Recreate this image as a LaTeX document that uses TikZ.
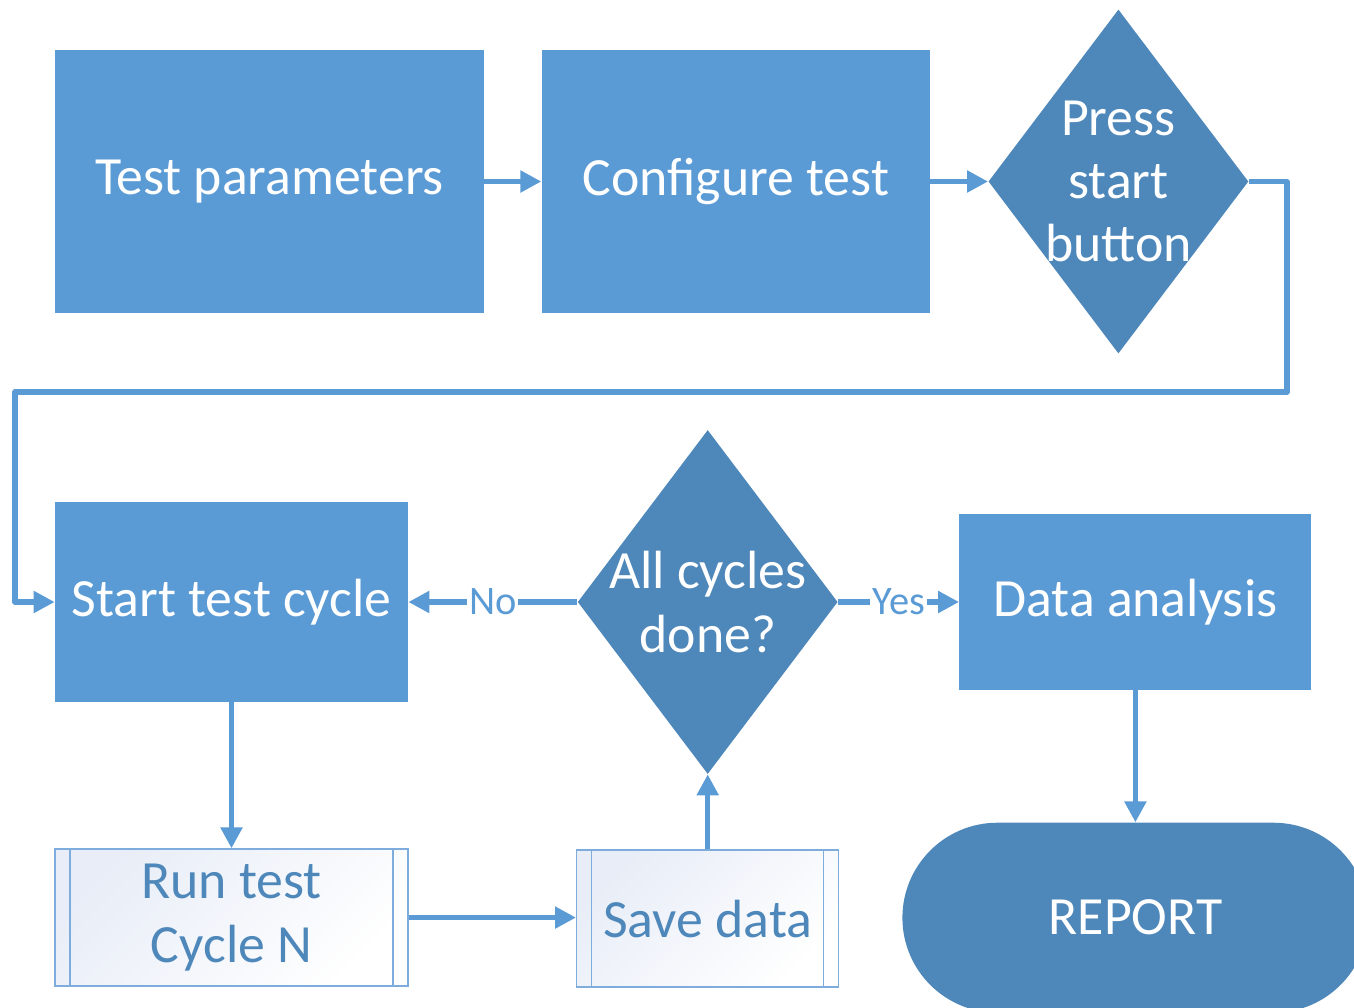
\documentclass[tikz,border=0pt]{standalone}
\usepackage{fontspec}
\setmainfont{Carlito}
\usetikzlibrary{arrows.meta, shapes.geometric, positioning}

\definecolor{boxblue}{RGB}{91,155,213}
\definecolor{deepblue}{RGB}{78,135,186}
\definecolor{paleblue}{RGB}{232,237,247}
\definecolor{rimblue}{RGB}{126,172,220}

\begin{document}
\begin{tikzpicture}[
    big/.style={font=\fontsize{30.6}{36}\selectfont},
    block/.style={rectangle, fill=boxblue, text=white, big, align=center, inner sep=2pt},
    decision/.style={diamond, fill=deepblue, inner sep=0pt,
      minimum width=5.2cm, minimum height=6.88cm},
    dectext/.style={text=white, big, align=center},
    subproc/.style={rectangle, draw=rimblue, line width=0.8pt,
      top color=paleblue, bottom color=white, shading angle=45,
      text=deepblue, big, align=center,
      path picture={\draw[rimblue, line width=0.8pt]
        ([xshift=0.3cm]path picture bounding box.north west) -- ([xshift=0.3cm]path picture bounding box.south west)
        ([xshift=-0.3cm]path picture bounding box.north east) -- ([xshift=-0.3cm]path picture bounding box.south east);}},
    terminal/.style={rectangle, rounded corners=1.9cm, fill=deepblue, text=white, big},
    flow/.style={draw=boxblue, line width=3pt, line join=round,
      -{Triangle[length=0.42cm, width=0.42cm]}},
    answer/.style={fill=white, text=boxblue, inner sep=1pt, font=\fontsize{23}{27}\selectfont}
  ]
  \useasboundingbox (0,0) rectangle (27.08,-20.14);
  \clip (0,0) rectangle (27.08,-20.14);

  % top row
  \node[block, minimum width=8.58cm, minimum height=5.26cm] (params) at (5.39,-3.63) {Test parameters};
  \node[block, minimum width=7.76cm, minimum height=5.26cm, right=1.14cm of params] (config) {Configure test};
  \node[decision, right=1.16cm of config, label={[dectext]center:Press\\start\\button}] (press) {};

  % middle row
  \node[block, minimum width=7.06cm, minimum height=4cm] (start) at (4.63,-12.04) {Start test cycle};
  \node[decision, right=3.38cm of start, label={[dectext]center:All cycles\\done?}] (done) {};
  \node[block, minimum width=7.04cm, minimum height=3.52cm, right=2.42cm of done] (data) {Data analysis};

  % bottom row
  \node[subproc, minimum width=7.06cm, minimum height=2.74cm, below=2.92cm of start] (run) {Run test\\Cycle N};
  \node[subproc, minimum width=5.24cm, minimum height=2.74cm, below=1.5cm of done] (save) {Save data};
  \node[terminal, minimum width=9.32cm, minimum height=3.8cm, below=2.64cm of data] (report) {REPORT};

  \coordinate (loopR) at (25.74,-7.84);
  \coordinate (loopL) at (0.3,-7.84);

  \draw[flow] (params) -- (config);
  \draw[flow] (config) -- (press);
  \draw[flow] (press.east) -| (loopR) -- (loopL) |- (start.west);
  \draw[flow] (start) -- (run);
  \draw[flow] (run.east) -- (run.east -| save.west);
  \draw[flow] (save) -- (done);
  \draw[flow] (done) -- node[answer] {No} (start);
  \draw[flow] (done) -- node[answer] {Yes} (data);
  \draw[flow] (data) -- (report);
\end{tikzpicture}
\end{document}
